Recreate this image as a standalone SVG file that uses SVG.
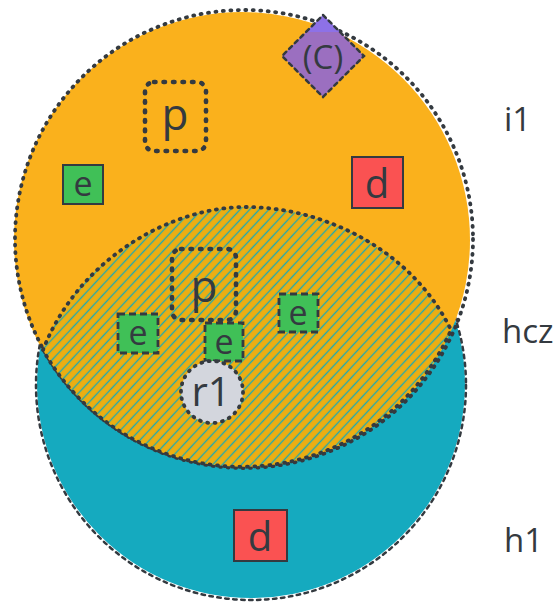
<svg xmlns="http://www.w3.org/2000/svg" width="558" height="603" viewBox="0 0 558 603">
  <style>
    .lbl { font-family: "Open Sans", "Noto Sans", "Liberation Sans", sans-serif; fill: #343a40; }
    .outline { fill: none; stroke: #343a40; stroke-width: 2.5; stroke-linecap: round; }
    .dots { stroke-dasharray: 1 6.5; stroke-width: 3.8; }
    .bigdots { stroke-dasharray: 1.5 8; stroke-width: 4.6; }
    .dash { stroke-dasharray: 7 4; stroke-linecap: butt; stroke-width: 2.8; }
    .green { fill: #40c057; }
    .red { fill: #fa5252; }
  </style>
  <defs>
    <pattern id="hatch" width="7" height="7" patternUnits="userSpaceOnUse" patternTransform="rotate(-47)">
      <rect width="7" height="7" fill="#ecae12"/>
      <line x1="0" y1="3.5" x2="7" y2="3.5" stroke="#1aaab4" stroke-width="1.3"/>
    </pattern>
  </defs>

  <!-- h1: teal circle -->
  <g id="h1">
    <circle cx="251" cy="384" r="214" fill="#15aabf"/>
    <circle class="outline" cx="251" cy="385" r="215" stroke-width="3.2" stroke-dasharray="3.5 4.5"/>
  </g>

  <!-- i1: amber circle -->
  <g id="i1">
    <circle cx="242" cy="240" r="228" fill="#fab11c"/>
    <circle class="outline dots" cx="244" cy="239" r="229"/>
  </g>

  <!-- hcz: hatched overlap region -->
  <g id="hcz">
    <path d="M 43 350 C 80 255 175 207 245 207 C 330 207 415 255 451 330 A 228 228 0 0 1 43 350 Z" fill="url(#hatch)"/>
    <path class="outline dots" d="M 43 350 C 80 255 175 207 245 207 C 330 207 415 255 451 330 A 228 228 0 0 1 43 350 Z"/>
  </g>

  <!-- nodes inside i1 -->
  <g id="p-top">
    <rect class="outline bigdots" x="145" y="82" width="61" height="69" rx="9"/>
    <text class="lbl" x="175" y="130" font-size="44" text-anchor="middle">p</text>
  </g>
  <g id="e-top">
    <rect class="green" x="63" y="165" width="40" height="39" stroke="#343a40" stroke-width="2"/>
    <text class="lbl" x="83" y="196" font-size="34" text-anchor="middle">e</text>
  </g>
  <g id="c-node">
    <polygon points="323,15 364,56 323,97 282,56" fill="#9b6fc0"/>
    <polygon points="323,15 340,32 306,32" fill="#8a72f0" opacity="0.8"/>
    <polygon class="outline" points="323,15 364,56 323,97 282,56" stroke-dasharray="4 4" stroke-width="2.6"/>
    <text class="lbl" x="323" y="69" font-size="33" text-anchor="middle">(C)</text>
  </g>
  <g id="d-top">
    <rect class="red" x="352" y="157" width="51" height="51" stroke="#343a40" stroke-width="2"/>
    <text class="lbl" x="377" y="198" font-size="40" text-anchor="middle">d</text>
  </g>

  <!-- nodes inside hcz -->
  <g id="p-mid">
    <rect class="outline bigdots" x="172" y="249" width="64" height="71" rx="9"/>
    <text class="lbl" x="204" y="302" font-size="44" text-anchor="middle">p</text>
  </g>
  <g id="e-left">
    <rect class="green" x="118" y="314" width="40" height="39"/>
    <rect class="outline dash" x="118" y="314" width="40" height="39"/>
    <text class="lbl" x="138" y="345" font-size="34" text-anchor="middle">e</text>
  </g>
  <g id="e-mid">
    <rect class="green" x="205" y="323" width="38" height="38"/>
    <rect class="outline dash" x="205" y="323" width="38" height="38"/>
    <text class="lbl" x="224" y="354" font-size="34" text-anchor="middle">e</text>
  </g>
  <g id="e-right">
    <rect class="green" x="279" y="294" width="39" height="38"/>
    <rect class="outline dash" x="279" y="294" width="39" height="38"/>
    <text class="lbl" x="298" y="325" font-size="34" text-anchor="middle">e</text>
  </g>
  <g id="r1">
    <circle cx="212" cy="392" r="31" fill="#d3d6dd"/>
    <circle class="outline dots" cx="212" cy="392" r="31"/>
    <text class="lbl" x="211" y="406" font-size="40" text-anchor="middle">r1</text>
  </g>

  <!-- node inside h1 -->
  <g id="d-bottom">
    <rect class="red" x="234" y="510" width="53" height="51" stroke="#343a40" stroke-width="2"/>
    <text class="lbl" x="260" y="551" font-size="40" text-anchor="middle">d</text>
  </g>

  <!-- set labels -->
  <g id="labels">
    <text class="lbl" x="504" y="131" font-size="33">i1</text>
    <text class="lbl" x="502" y="343" font-size="33">hcz</text>
    <text class="lbl" x="504" y="552" font-size="33">h1</text>
  </g>
</svg>
